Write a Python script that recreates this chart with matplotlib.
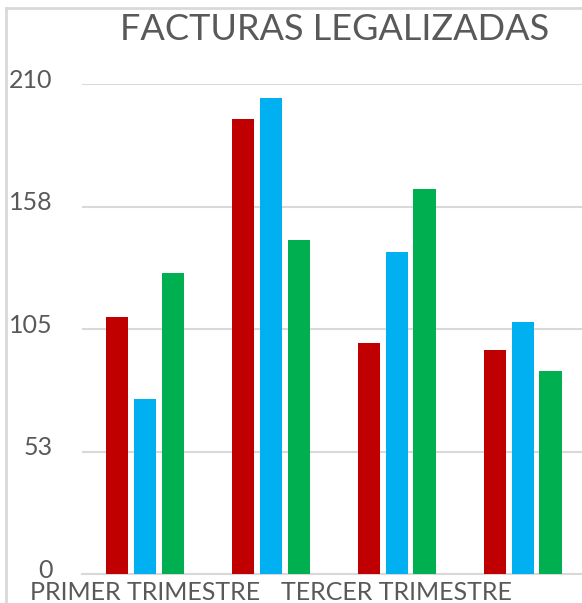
import matplotlib
matplotlib.use("Agg")
import matplotlib.pyplot as plt
import matplotlib.transforms as mtransforms
import numpy as np
from matplotlib.lines import Line2D

# data
categories = ["PRIMER TRIMESTRE", "SEGUNDO TRIMESTRE", "TERCER TRIMESTRE", "CUARTO TRIMESTRE"]
serie_roja = [110, 195, 99, 96]
serie_azul = [75, 204, 138, 108]
serie_verde = [129, 143, 165, 87]
y_ticks = [0, 52.5, 105, 157.5, 210]
y_tick_labels = ["0", "53", "105", "158", "210"]

colors = ["#C00000", "#00B0F0", "#00B050"]
text_color = "#595959"
grid_color = "#D9D9D9"

plt.rcParams["font.family"] = ["Lato", "DejaVu Sans"]

fig = plt.figure(figsize=(5.82, 6.03), dpi=100)
ax = fig.add_axes([82 / 582, 29 / 603, 500 / 582, 490 / 603])

x = np.arange(len(categories))
width = 0.176
pitch = 0.22
for k, (vals, c) in enumerate(zip([serie_roja, serie_azul, serie_verde], colors)):
    ax.bar(x + (k - 1) * pitch, vals, width=width, color=c, zorder=3)

ax.set_xlim(-0.5, len(categories) - 0.5 - 0.03)
ax.set_ylim(0, 210)
ax.set_yticks(y_ticks)
ax.set_yticklabels(y_tick_labels)
ax.yaxis.grid(True, color=grid_color, linewidth=1.5, zorder=0)
ax.set_xticks(x)
# Excel drops every other label for lack of room
ax.set_xticklabels([c if i % 2 == 0 else "" for i, c in enumerate(categories)])

for s in ["top", "right", "left"]:
    ax.spines[s].set_visible(False)
ax.spines["bottom"].set_color(grid_color)
ax.spines["bottom"].set_linewidth(1.5)
ax.tick_params(axis="y", length=0, pad=21, labelsize=18, labelcolor=text_color)
ax.tick_params(axis="x", length=0, pad=5, labelsize=18, labelcolor=text_color)

# nudge value labels up a little, like Excel does
shift = mtransforms.ScaledTranslation(0, 4 / 72, fig.dpi_scale_trans)
for lab in ax.get_yticklabels():
    lab.set_transform(lab.get_transform() + shift)

fig.text(335 / 582, 1 - 30 / 603, "FACTURAS LEGALIZADAS", ha="center", va="center",
         fontsize=26, color=text_color)

# chart frame (cropped: only top and left edges visible)
fig.add_artist(Line2D([6 / 582, 6 / 582], [0, 1 - 8 / 603], transform=fig.transFigure,
                      color=grid_color, linewidth=2))
fig.add_artist(Line2D([6 / 582, 1], [1 - 8 / 603, 1 - 8 / 603], transform=fig.transFigure,
                      color=grid_color, linewidth=2))

fig.savefig("out.png", dpi=100)
